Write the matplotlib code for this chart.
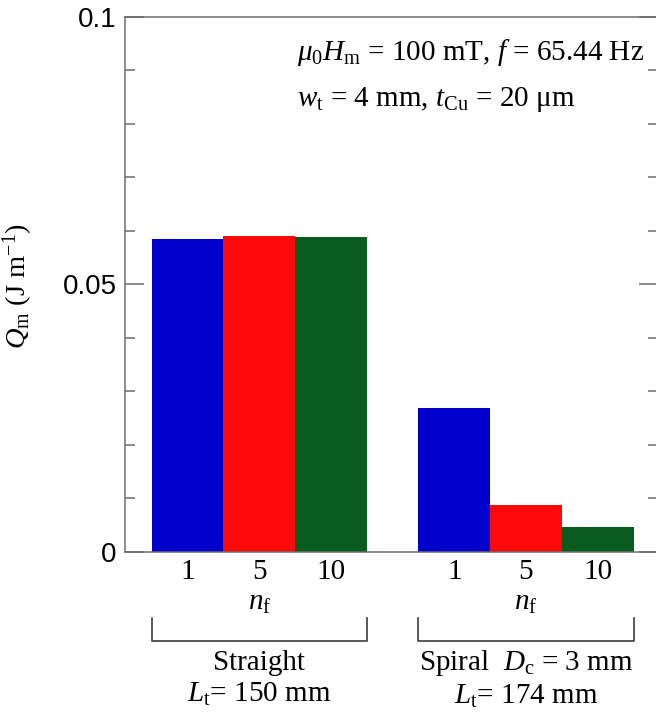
import matplotlib
matplotlib.use("Agg")
import matplotlib.pyplot as plt
from matplotlib.ticker import MultipleLocator, FixedLocator
from matplotlib.transforms import blended_transform_factory
from matplotlib.lines import Line2D

plt.rcParams['font.family'] = ['Liberation Serif', 'DejaVu Serif']
plt.rcParams['mathtext.fontset'] = 'custom'
plt.rcParams['mathtext.rm'] = 'Liberation Serif'
plt.rcParams['mathtext.it'] = 'Liberation Serif:italic'
plt.rcParams['mathtext.bf'] = 'Liberation Serif:bold'

# Data: loss per unit length for filament counts, two tape geometries
nf_labels = ["1", "5", "10"]
straight_q = [0.0585, 0.0590, 0.0589]
spiral_q = [0.0269, 0.0087, 0.0046]
bar_colors = ["#0000CD", "#FC0A0A", "#0A5C1E"]
group_names = ["Straight\n$L_\\mathrm{t}$= 150 mm",
               "Spiral  $D_\\mathrm{c}$ = 3 mm\n$L_\\mathrm{t}$= 174 mm"]

W, H = 656, 715
FS = 21
fig = plt.figure(figsize=(W / 100, H / 100), dpi=100)
ax = fig.add_axes([125 / W, 1 - 551.7 / H, (658 - 125) / W, (551.7 - 16.7) / H])

x1 = [0, 1, 2]
x2 = [3.72, 4.72, 5.72]
ax.bar(x1, straight_q, width=1.0, color=bar_colors, linewidth=0)
ax.bar(x2, spiral_q, width=1.0, color=bar_colors, linewidth=0)

ax.set_xlim(-0.872, 6.561)
ax.set_ylim(0, 0.1)

axis_gray = "#6c6c6c"
for s in ax.spines.values():
    s.set_color(axis_gray)
    s.set_linewidth(1.1)

ax.yaxis.set_major_locator(FixedLocator([0, 0.05, 0.1]))
ax.yaxis.set_minor_locator(MultipleLocator(0.01))
ax.set_yticklabels(["0", "0.05", "0.1"], family="Liberation Sans", fontsize=20)
ax.tick_params(axis="y", which="both", direction="in", left=True, right=True,
               color=axis_gray, width=1.1, pad=6)
ax.tick_params(axis="y", which="major", length=14)
ax.tick_params(axis="y", which="minor", length=7)

ax.set_xticks(x1 + x2)
ax.set_xticklabels(nf_labels + nf_labels, fontsize=FS)
ax.tick_params(axis="x", length=0, pad=5)

ax.set_ylabel("$Q_\\mathrm{m}$ (J m$^{-1}$)", fontsize=20.5)
ax.yaxis.set_label_coords(-0.168, 0.497)

# Parameter annotation
ax.text(297 / W, 1 - 53 / H, "$\\mathit{\\mu}_0H_\\mathrm{m}$ = 100 mT, $f$ = 65.44 Hz",
        transform=fig.transFigure, fontsize=FS, ha="left", va="center")
ax.text(297 / W, 1 - 100 / H, "$w_\\mathrm{t}$ = 4 mm, $t_\\mathrm{Cu}$ = 20 \u03bcm",
        transform=fig.transFigure, fontsize=FS, ha="left", va="center")

# Group annotations below the axis
tr = blended_transform_factory(ax.transData, fig.transFigure)
groups = [(x1, group_names[0]), (x2, group_names[1])]
for xs, name in groups:
    left, right = xs[0] - 0.5, xs[-1] + 0.5
    mid = (xs[0] + xs[-1]) / 2
    ax.text(mid, 1 - 603 / H, "$n_\\mathrm{f}$", transform=tr, fontsize=FS,
            ha="center", va="center")
    y_top, y_bot = 1 - 617.7 / H, 1 - 640.7 / H
    bracket = Line2D([left, left, right, right], [y_top, y_bot, y_bot, y_top],
                     transform=tr, color="#3c3c3c", linewidth=1.2, clip_on=False)
    fig.add_artist(bracket)
    ax.text(mid, 1 - 679 / H, name, transform=tr, fontsize=FS, ha="center",
            va="center", linespacing=1.25)

fig.savefig("out.png", dpi=100, facecolor="white")
